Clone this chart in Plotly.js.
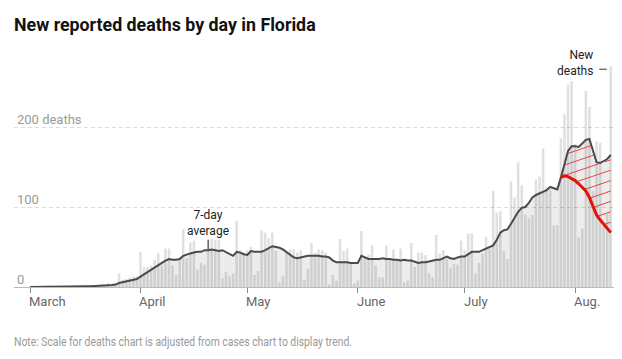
<!DOCTYPE html>
<html>
<head>
<meta charset="utf-8">
<script src="https://cdn.plot.ly/plotly-3.0.1.min.js"></script>
<style>
html,body{margin:0;padding:0;background:#fff;}
#chart{width:622px;height:359px;}
</style>
</head>
<body>
<div id="chart"></div>
<script>
// ---- data ----
const START_DATE = [2020, 2, 1]; // 1 March 2020 (month index 2)

// New reported deaths per day, 1 Mar .. 11 Aug
const deaths = [
  0,0,0,0,0,2,0,0,0,0,
  1,0,1,1,1,0,1,2,1,2,
  3,3,5,2,4,17,9,10,12,13,
  14,44,25,25,27,34,42,27,48,48,
  27,15,35,72,36,56,58,22,30,28,
  58,60,59,59,11,19,13,17,83,46,
  43,46,50,15,20,71,68,61,68,45,
  6,14,43,47,47,43,46,9,23,55,
  43,47,46,43,3,15,8,60,45,48,
  30,4,8,70,36,41,52,27,12,12,
  52,36,47,34,48,6,8,55,25,43,
  43,40,17,12,65,42,46,35,24,29,
  28,58,46,67,67,17,30,42,63,48,
  120,93,95,45,35,132,112,156,127,90,
  86,90,134,138,173,125,121,77,77,186,
  216,253,257,179,62,73,245,225,120,182,
  180,77,91,276
];

// 7-day average line as drawn
const avg7 = [
  0,0,0,0,0,0.3,0.3,0.3,0.3,0.3,
  0.4,0.4,0.5,0.6,0.7,0.7,0.9,1,1.1,1.3,
  1.6,1.9,2.3,2.6,3,5,6,7,8,9,
  10,13,16,19,21,25,28,31,33,35,
  34,34,35,39,41,42,43,44,44,46,
  46,47,46,45,46,44,41,39,44,43,
  41,40,45,44,44,44,46,48,51,50,
  49,47,44,41,37,36,37,38,39,39,
  39,39,38,38,37,33,31,31,31,31,
  30,30,30,39,37,35,35,35,35,36,
  35,35,34,34,33,34,33,33,31,30,
  31,31,32,33,34,34,36,38,36,35,
  37,38,38,41,44,44,44,46,48,49,
  52,59,68,71,72,79,87,94,99,100,
  105,112,115,117,119,121,125,123,122,137,
  155,170,176,176,175,179,184,185,170,156,
  155,157,160,165
];

// red trend line (starts at day index 149 = 28 Jul)
const trendStart = 149;
const trend = [137,139,138,136,133,129,125,120,112,100,90,84,79,73,68];

const tickDates = ['2020-03-01','2020-04-01','2020-05-01','2020-06-01','2020-07-01','2020-08-01'];
const tickLabels = ['March','April','May','June','July','Aug.'];
const yTicks = [0, 100, 200];
const yTickLabels = ['0', '100', '200 deaths'];
const NOTE = 'Note: Scale for deaths chart is adjusted from cases chart to display trend.';

// ---- helpers ----
const DAY = 86400000;
const T0 = Date.UTC(START_DATE[0], START_DATE[1], START_DATE[2]);
function dateAt(t){
  return new Date(T0 + t*DAY).toISOString().slice(0,19).replace('T',' ');
}
const dates = deaths.map((_, i) => dateAt(i).slice(0,10));
function interp(arr, offset, t){
  const u = t - offset;
  const i = Math.floor(u);
  if (i < 0) return arr[0];
  if (i >= arr.length - 1) return arr[arr.length - 1];
  const f = u - i;
  return arr[i] + (arr[i+1] - arr[i]) * f;
}

// hatch between red trend line and the 7-day average
const HATCH_SLOPE = 1.5;   // deaths per day
const HATCH_STEP = 13;     // deaths between hatch lines
const HATCH_INSET = 1.5;
const tA = trendStart, tB = trendStart + trend.length - 1;
const hx = [], hy = [];
(function(){
  const cLo = Math.min(...trend) - HATCH_SLOPE*(tB - tA) - HATCH_STEP;
  const cHi = Math.max(...avg7.slice(tA, tB+1)) + HATCH_STEP;
  for (let c = cLo; c <= cHi; c += HATCH_STEP){
    let s = null, e = null;
    for (let t = tA; t <= tB + 1e-9; t += 0.02){
      const lo = interp(trend, tA, t) + HATCH_INSET;
      const hi = interp(avg7, 0, t) - HATCH_INSET;
      const v = c + HATCH_SLOPE*(t - tA);
      if (v > lo && v < hi){ if (!s) s = [t, v]; e = [t, v]; }
      else if (s){
        if (e[0] - s[0] > 0.3){ hx.push(dateAt(s[0]), dateAt(e[0]), null); hy.push(s[1], e[1], null); }
        s = null;
      }
    }
    if (s && e[0] - s[0] > 0.3){ hx.push(dateAt(s[0]), dateAt(e[0]), null); hy.push(s[1], e[1], null); }
  }
})();

const trendDates = trend.map((_, i) => dates[trendStart + i]);

const traces = [
  {type:'bar', x:dates, y:deaths, marker:{color:'rgba(0,0,0,0.12)', line:{width:0}}, hoverinfo:'skip'},
  {type:'scatter', mode:'lines', x:dates, y:avg7, fill:'tozeroy', fillcolor:'rgba(0,0,0,0.075)', line:{width:0, color:'rgba(0,0,0,0)'}, hoverinfo:'skip'},
  {type:'scatter', mode:'lines', x:hx, y:hy, line:{color:'#e8322e', width:0.9}, connectgaps:false, hoverinfo:'skip'},
  {type:'scatter', mode:'lines', x:dates, y:avg7, line:{color:'#4a4a4a', width:2}, hoverinfo:'skip'},
  {type:'scatter', mode:'lines', x:trendDates, y:trend, line:{color:'#e3120b', width:3}, hoverinfo:'skip'}
];

const FONT = 'Roboto, Arial, sans-serif';
const monthAnnotations = tickDates.map((d, i) => ({
  x:d, xref:'x', yref:'paper', y:(287-301)/232, xanchor:'left', yanchor:'middle',
  xshift:-3, text:tickLabels[i], showarrow:false,
  font:{family:FONT, size:13, color:'#666'}
}));

const layout = {
  width:622, height:359,
  margin:{l:14, r:8, t:55, b:72},
  paper_bgcolor:'#fff', plot_bgcolor:'#fff',
  showlegend:false,
  bargap:0.28,
  title:{
    text:'New reported deaths by day in Florida',
    font:{family:FONT, size:17.8, color:'#121212', weight:700},
    xref:'container', x:14/622, xanchor:'left',
    yref:'container', y:1-25/359, yanchor:'middle'
  },
  xaxis:{
    type:'date',
    range:[dateAt(-4.49), dateAt(163.9)],
    tickvals:tickDates, ticktext:tickLabels, showticklabels:false,
    ticks:'outside', ticklen:5, tickcolor:'#888', tickwidth:1,
    showline:true, linecolor:'#bbb', linewidth:1,
    showgrid:false, zeroline:false,
    fixedrange:true
  },
  yaxis:{
    range:[0,290],
    tickvals:yTicks, ticktext:yTickLabels,
    showgrid:true, gridcolor:'#dcdcdc', gridwidth:1, griddash:'4px,3px',
    zeroline:false, ticks:'', showline:false,
    ticklabelposition:'inside top', ticklabelshift:2, ticklabeloverflow:'allow',
    tickfont:{family:FONT, size:13, color:'#9a9a9a'},
    fixedrange:true
  },
  annotations:[
    {x:dates[50], y:avg7[50], xref:'x', yref:'y', text:'7-day<br>average',
     showarrow:true, arrowhead:0, arrowwidth:1, arrowcolor:'#333', ax:0, ay:-27, standoff:1,
     font:{family:FONT, size:12, color:'#222'}},
    {x:dates[163], y:deaths[163], xref:'x', yref:'y', text:'New<br>deaths',
     showarrow:false, xanchor:'right', yanchor:'middle', align:'right', xshift:-16, yshift:3,
     font:{family:FONT, size:12, color:'#222'}},
    {x:dates[163], y:deaths[163], xref:'x', yref:'y', text:'',
     showarrow:true, arrowhead:0, arrowwidth:1, arrowcolor:'#333', ax:-13, ay:0, standoff:4, yshift:-3},
    {xref:'paper', yref:'paper', x:-2/600, y:(287-341)/232, xanchor:'left', yanchor:'middle',
     text:NOTE, showarrow:false, font:{family:FONT, size:12.5, color:'#999'}}
  ].concat(monthAnnotations)
};

Plotly.newPlot('chart', traces, layout, {displayModeBar:false, staticPlot:true}).then(function(gd){
  // condense the note line to the reference width, keeping its left edge (text stays real text)
  gd.querySelectorAll('.annotation-text').forEach(function(el){
    if (el.textContent === NOTE){
      const b0 = el.getBBox();
      el.setAttribute('text-anchor', 'start');
      el.setAttribute('x', String(b0.x));
      el.setAttribute('textLength', '338');
      el.setAttribute('lengthAdjust', 'spacingAndGlyphs');
    }
  });
});
</script>
</body>
</html>
